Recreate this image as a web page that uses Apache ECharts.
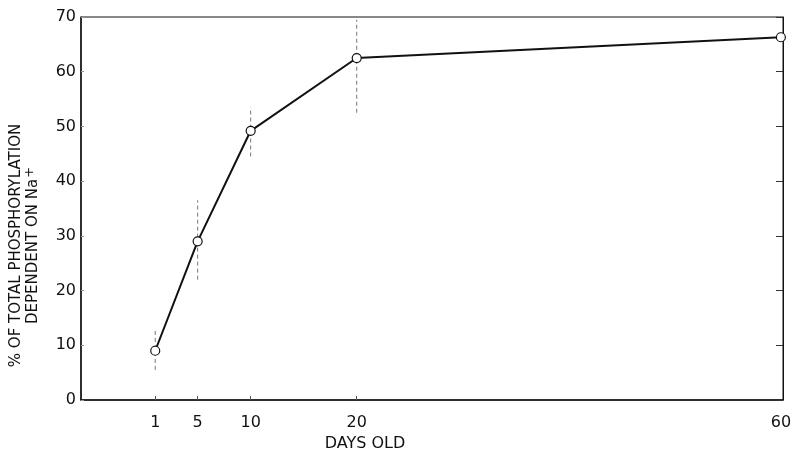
<!DOCTYPE html>
<html><head><meta charset="utf-8">
<script src="https://cdn.jsdelivr.net/npm/echarts@6/dist/echarts.min.js"></script>
<style>html,body{margin:0;padding:0;background:#fff}#c{width:794px;height:449px}</style>
</head><body><div id="c"></div>
<script>
const days = [1, 5, 10, 20, 60];
const values = [9, 29, 49.2, 62.5, 66.3];
const errLow = [5.5, 22, 44.5, 52.5, null];
const errHigh = [12.8, 36.5, 53.5, 69.5, null];
const xTicks = [1, 5, 10, 20, 60];
const xTickMarks = [1, 5, 10, 20];

const chart = echarts.init(document.getElementById('c'));
const font = 'DejaVu Sans';
chart.setOption({
  animation: false,
  backgroundColor: '#fff',
  grid: { left: 81, right: 11, top: 17, bottom: 49, show: true, borderColor: '#111', borderWidth: 1,
          containLabel: false, outerBoundsMode: 'none' },
  xAxis: {
    type: 'value', min: -6, max: 60.2,
    name: 'DAYS OLD', nameLocation: 'middle', nameGap: 31,
    nameTextStyle: { fontFamily: font, fontSize: 16, color: '#111', padding: [0, 0, 0, -134] },
    axisLine: { onZero: false, lineStyle: { color: '#111', width: 1.5 } },
    splitLine: { show: false },
    axisTick: { show: true, inside: true, length: 5, customValues: xTickMarks, lineStyle: { color: '#555', type: 'dashed' } },
    axisLabel: { customValues: xTicks, fontFamily: font, fontSize: 16, color: '#111', margin: 15 }
  },
  yAxis: [{
    type: 'value', min: 0, max: 70, interval: 10,
    name: '{m|% OF TOTAL PHOSPHORYLATION}\n{m|DEPENDENT ON Na}{s|+}', nameLocation: 'middle', nameGap: 39,
    nameTextStyle: { fontFamily: font, fontSize: 15, color: '#111', lineHeight: 17, padding: [0, 74, 0, 0],
      rich: {
        m: { fontFamily: font, fontSize: 15, color: '#111', lineHeight: 17 },
        s: { fontFamily: font, fontSize: 13, color: '#111', lineHeight: 17, padding: [0, 0, 7, 1] }
      } },
    axisLine: { show: true, onZero: false, lineStyle: { color: '#111', width: 1.5 } },
    splitLine: { show: false },
    axisTick: { show: true, inside: true, length: 3, lineStyle: { color: '#999' } },
    axisLabel: { fontFamily: font, fontSize: 16, color: '#111', margin: 5 }
  }, {
    type: 'value', min: 0, max: 70, interval: 10, position: 'right',
    axisLine: { show: true, onZero: false, lineStyle: { color: '#111', width: 1 } },
    splitLine: { show: false },
    axisTick: { show: true, inside: true, length: 7, lineStyle: { color: '#333' } },
    axisLabel: { show: false }
  }],
  series: [{
    type: 'custom',
    renderItem: function (params, api) {
      const lo = api.value(1), hi = api.value(2);
      if (lo == null || isNaN(lo)) return;
      const p1 = api.coord([api.value(0), lo]);
      const p2 = api.coord([api.value(0), hi]);
      return { type: 'line', shape: { x1: p1[0], y1: p1[1], x2: p2[0], y2: p2[1] },
        style: { stroke: '#777', lineWidth: 1, lineDash: [4, 3] } };
    },
    data: days.map((d, i) => [d, errLow[i], errHigh[i]]),
    z: 1
  }, {
    type: 'line',
    data: days.map((d, i) => [d, values[i]]),
    lineStyle: { color: '#111', width: 2 },
    symbol: 'circle', symbolSize: 9,
    itemStyle: { color: '#fff', borderColor: '#111', borderWidth: 1.2 },
    z: 3
  }]
});
</script></body></html>
